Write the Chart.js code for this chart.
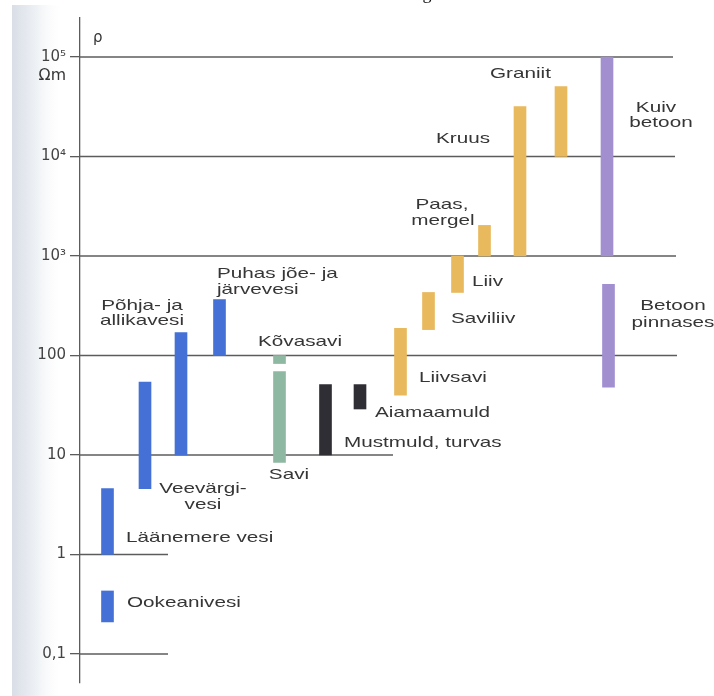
<!DOCTYPE html>
<html>
<head>
<meta charset="utf-8">
<script src="https://cdn.jsdelivr.net/npm/chart.js@4.4.0/dist/chart.umd.min.js"></script>
<style>
  html, body { margin: 0; padding: 0; background: #fff; }
  #wrap { width: 714px; height: 696px; }
</style>
</head>
<body>
<div id="wrap"><canvas id="rhoChart" width="714" height="696"></canvas></div>
<script>
// resistivity ranges, Ohm*m
const materials = ['Ookeanivesi', 'Läänemere vesi', 'Veevärgivesi', 'Põhja- ja allikavesi',
  'Puhas jõe- ja järvevesi', 'Kõvasavi', 'Savi', 'Mustmuld, turvas', 'Aiamaamuld',
  'Liivsavi', 'Saviliiv', 'Liiv', 'Paas, mergel', 'Kruus', 'Graniit', 'Kuiv betoon', 'Betoon pinnases'];
const barX = [107.5, 107.5, 145, 181, 219.5, 279.5, 279.5, 325.5, 360, 400.5, 428.5, 457.5, 484.5, 520, 561, 607, 608.5];
const rhoLow = [0.21, 1, 4.6, 10, 100, 83, 8.4, 10, 29, 40, 182, 430, 1000, 1000, 10000, 1000, 48];
const rhoHigh = [0.43, 4.6, 54, 170, 365, 100, 69, 51, 51, 187, 430, 1000, 2030, 31800, 50500, 100000, 520];
const barGroup = ['water', 'water', 'water', 'water', 'water', 'clay', 'clay', 'soil', 'soil',
  'rock', 'rock', 'rock', 'rock', 'rock', 'rock', 'concrete', 'concrete'];
const groupColors = { water: '#4571d6', clay: '#8fb8a2', soil: '#2e2e34', rock: '#e8b95d', concrete: '#a18fd0' };

const tickValues = [1e5, 1e4, 1e3, 100, 10, 1, 0.1];
const tickLabels = ['10⁵', '10⁴', '10³', '100', '10', '1', '0,1'];
const lineEnds = [673, 675, 676, 677, 393, 168, 168];

// annotation texts: [text, x, log10(rho), align]
const notes = [
  ['Ookeanivesi', 127, -0.49, 'left'],
  ['Läänemere vesi', 126, 0.17, 'left'],
  ['Veevärgi-', 203, 0.66, 'center'],
  ['vesi', 203, 0.50, 'center'],
  ['Põhja- ja', 142, 2.50, 'center'],
  ['allikavesi', 142, 2.35, 'center'],
  ['Puhas jõe- ja', 217, 2.82, 'left'],
  ['järvevesi', 217, 2.66, 'left'],
  ['Kõvasavi', 258, 2.14, 'left'],
  ['Savi', 289, 0.80, 'center'],
  ['Mustmuld, turvas', 344, 1.12, 'left'],
  ['Aiamaamuld', 375, 1.42, 'left'],
  ['Liivsavi', 419, 1.78, 'left'],
  ['Saviliiv', 451, 2.37, 'left'],
  ['Liiv', 472, 2.74, 'left'],
  ['Paas,', 442, 3.51, 'center'],
  ['mergel', 443, 3.35, 'center'],
  ['Kruus', 436, 4.18, 'left'],
  ['Graniit', 490, 4.83, 'left'],
  ['Kuiv', 656, 4.49, 'center'],
  ['betoon', 661, 4.34, 'center'],
  ['Betoon', 673, 2.50, 'center'],
  ['pinnases', 673, 2.33, 'center']
];

const pageBg = {
  id: 'pageBg',
  beforeDraw(chart) {
    const ctx = chart.ctx;
    ctx.save();
    ctx.fillStyle = '#fff';
    ctx.fillRect(0, 0, chart.width, chart.height);
    const g = ctx.createLinearGradient(12, 0, 64, 0);
    g.addColorStop(0, '#d9dee7');
    g.addColorStop(0.45, '#edf0f4');
    g.addColorStop(1, 'rgba(255,255,255,0)');
    ctx.fillStyle = g;
    ctx.fillRect(12, 5, 52, chart.height - 5);
    ctx.restore();
  }
};

const noteText = {
  id: 'noteText',
  afterDraw(chart) {
    const ctx = chart.ctx;
    const y = chart.scales.y;
    const draw = (txt, px, py, align, stretch) => {
      ctx.save();
      ctx.translate(px, py);
      ctx.scale(stretch, 1);
      ctx.textAlign = align;
      ctx.fillText(txt, 0, 0);
      ctx.restore();
    };
    ctx.save();
    ctx.fillStyle = '#363636';
    ctx.textBaseline = 'middle';
    ctx.font = '15px "Liberation Sans", Arial, sans-serif';
    notes.forEach(([txt, x, ly, align]) => {
      draw(txt, x, y.getPixelForValue(Math.pow(10, ly)), align, 1.38);
    });
    ctx.font = '15px "DejaVu Sans", sans-serif';
    draw('Ωm', 66, y.getPixelForValue(Math.pow(10, 4.81)), 'right', 1.05);
    draw('ρ', 93, y.getPixelForValue(Math.pow(10, 5.19)), 'left', 1);
    // caption fragment cut off at the top edge
    ctx.fillStyle = '#111';
    ctx.font = '18px "Liberation Serif", serif';
    ctx.textBaseline = 'alphabetic';
    draw('g', 427, -1, 'center', 1);
    ctx.restore();
  }
};

const guideSets = tickValues.map((v, i) => ({
  type: 'line',
  data: [{ x: 80, y: v }, { x: lineEnds[i], y: v }],
  borderColor: '#5c5c5c',
  borderWidth: 1.3,
  pointRadius: 0,
  order: 2
}));

new Chart(document.getElementById('rhoChart'), {
  type: 'bar',
  data: {
    datasets: [{
      label: 'ρ',
      data: barX.map((x, i) => ({ x, y: [rhoLow[i], rhoHigh[i]] })),
      backgroundColor: barGroup.map(g => groupColors[g]),
      barThickness: 12,
      order: 0
    }, ...guideSets]
  },
  options: {
    responsive: false,
    devicePixelRatio: 1,
    animation: false,
    layout: { padding: { top: 18, bottom: 13, left: 0, right: 0 } },
    plugins: { legend: { display: false }, tooltip: { enabled: false } },
    scales: {
      x: { type: 'linear', min: 80, max: 714, offset: false, display: false },
      y: {
        type: 'logarithmic',
        min: 0.0511,
        max: 246600,
        afterFit: s => { s.width = 80; },
        afterBuildTicks: s => { s.ticks = tickValues.map(v => ({ value: v })); },
        ticks: {
          autoSkip: false,
          padding: 4,
          color: '#444',
          font: { family: 'DejaVu Sans', size: 15 },
          callback: v => tickLabels[tickValues.indexOf(v)]
        },
        grid: { drawOnChartArea: false, tickLength: 10, color: '#5c5c5c', lineWidth: 1.3 },
        border: { color: '#5c5c5c', width: 1.3 }
      }
    }
  },
  plugins: [pageBg, noteText]
});
</script>
</body>
</html>
